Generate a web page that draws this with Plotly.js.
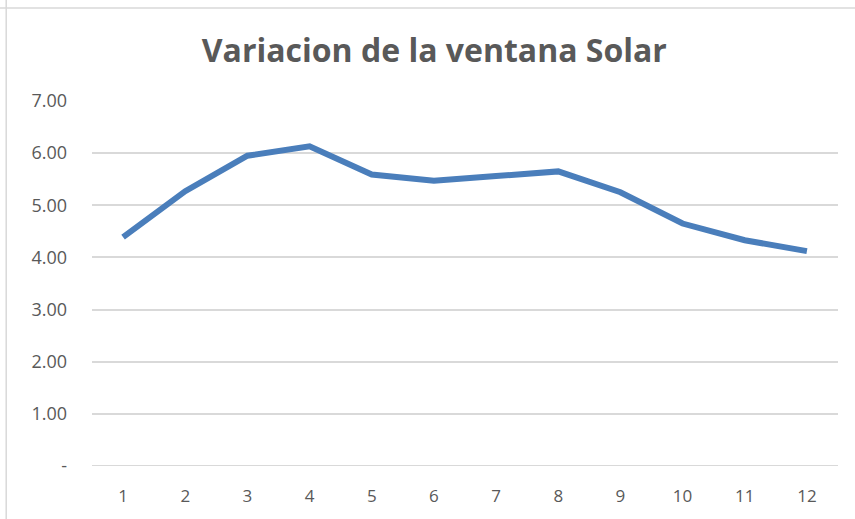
<!DOCTYPE html>
<html>
<head>
<meta charset="utf-8">
<script src="https://cdn.plot.ly/plotly-3.0.1.min.js"></script>
<style>
html,body{margin:0;padding:0;background:#fff;}
#chart{width:855px;height:519px;}
</style>
</head>
<body>
<div id="chart"></div>
<script>
const months = ["1","2","3","4","5","6","7","8","9","10","11","12"];
const values = [4.39, 5.27, 5.95, 6.13, 5.59, 5.47, 5.56, 5.65, 5.25, 4.65, 4.33, 4.12];
const yTickVals = [0, 1, 2, 3, 4, 5, 6, 7];
const yTickText = ["-", "1.00", "2.00", "3.00", "4.00", "5.00", "6.00", "7.00"];
const chartTitle = "Variacion de la ventana Solar";

const trace = {
  x: months,
  y: values,
  type: "scatter",
  mode: "lines",
  line: {color: "#4a7ebb", width: 6},
  hoverinfo: "x+y"
};

const layout = {
  width: 855,
  height: 519,
  margin: {l: 92, r: 17, t: 101, b: 53},
  paper_bgcolor: "#ffffff",
  plot_bgcolor: "#ffffff",
  showlegend: false,
  title: {
    text: chartTitle,
    x: 0.508,
    xanchor: "center",
    y: 0.903,
    yanchor: "middle",
    font: {family: "Open Sans, sans-serif", size: 32, color: "#595959", weight: 700}
  },
  xaxis: {
    type: "category",
    range: [-0.5, 11.5],
    showgrid: false,
    zeroline: false,
    showline: false,
    ticks: "",
    ticklabelstandoff: 18,
    tickfont: {family: "Open Sans, sans-serif", size: 17, color: "#595959"}
  },
  yaxis: {
    range: [0, 7],
    tickvals: yTickVals,
    ticktext: yTickText,
    showgrid: true,
    gridcolor: "#d9d9d9",
    gridwidth: 2,
    zeroline: false,
    showline: false,
    ticks: "",
    ticklabelstandoff: 24,
    tickfont: {family: "Open Sans, sans-serif", size: 18, color: "#595959"}
  },
  shapes: [
    {type: "line", xref: "paper", yref: "y", x0: 0, x1: 1, y0: 0, y1: 0, line: {color: "#d9d9d9", width: 2}, layer: "below"},
    {type: "line", xref: "paper", yref: "paper", x0: -0.115, x1: -0.115, y0: -0.2, y1: 1.5, line: {color: "#d9d9d9", width: 1.5}},
    {type: "line", xref: "paper", yref: "paper", x0: -0.2, x1: 1.2, y0: 1.255, y1: 1.255, line: {color: "#d9d9d9", width: 1.5}}
  ]
};

Plotly.newPlot("chart", [trace], layout, {displayModeBar: false, staticPlot: true});
</script>
</body>
</html>
